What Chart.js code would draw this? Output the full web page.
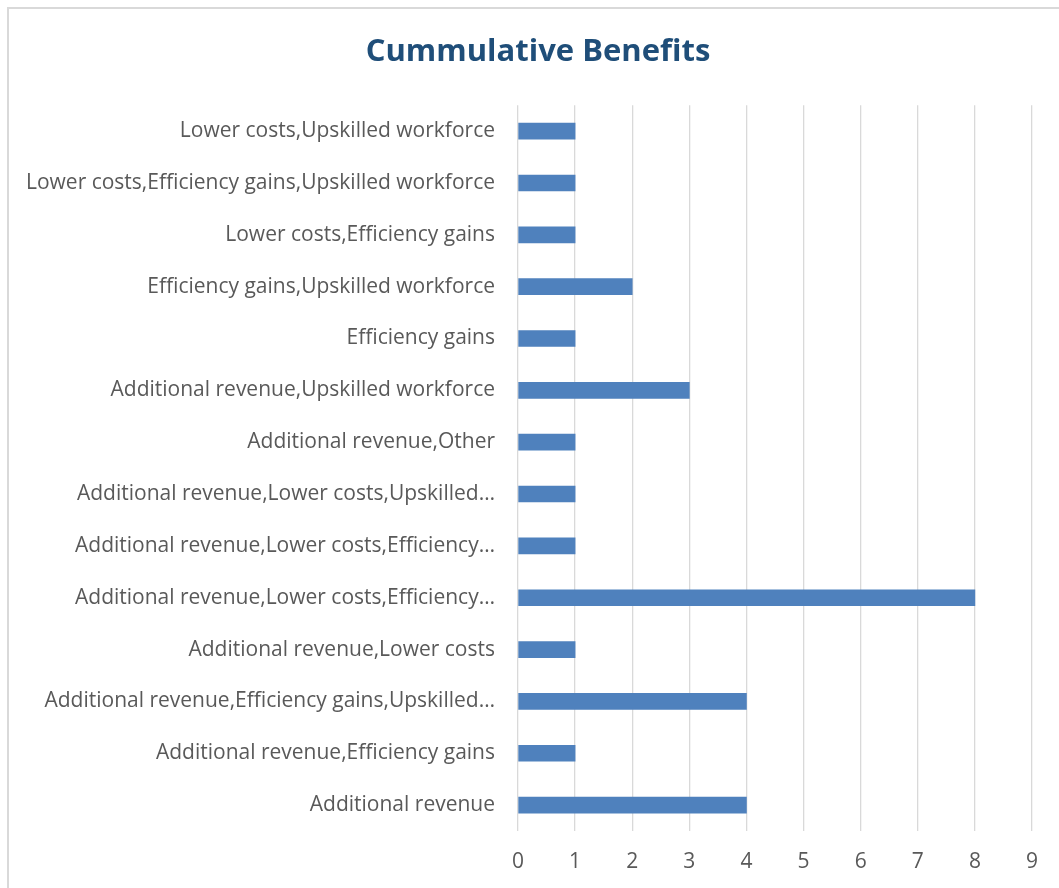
<!DOCTYPE html>
<html>
<head>
    <title>Cummulative Benefits</title>
    <script src="https://cdn.jsdelivr.net/npm/chart.js"></script>
    <style>
        body { margin: 0; padding: 0; background: #ffffff; overflow: hidden; }
        .frame {
            position: absolute;
            left: 7px;
            top: 7px;
            width: 1070px;
            height: 900px;
            border: 2px solid #d9d9d9;
        }
        .chart-box {
            position: absolute;
            left: 0;
            top: 0;
            width: 1076px;
            height: 888px;
        }
    </style>
</head>
<body>
    <div class="frame"></div>
    <div class="chart-box">
        <canvas id="benefitsChart"></canvas>
    </div>
    <script>
        const titleText = 'Cummulative Benefits';
        const categories = [
            'Lower costs,Upskilled workforce',
            'Lower costs,Efficiency gains,Upskilled workforce',
            'Lower costs,Efficiency gains',
            'Efficiency gains,Upskilled workforce',
            'Efficiency gains',
            'Additional revenue,Upskilled workforce',
            'Additional revenue,Other',
            'Additional revenue,Lower costs,Upskilled…',
            'Additional revenue,Lower costs,Efficiency…',
            'Additional revenue,Lower costs,Efficiency…',
            'Additional revenue,Lower costs',
            'Additional revenue,Efficiency gains,Upskilled…',
            'Additional revenue,Efficiency gains',
            'Additional revenue'
        ];
        const counts = [1, 1, 1, 2, 1, 3, 1, 1, 1, 8, 1, 4, 1, 4];
        const xTicks = [0, 1, 2, 3, 4, 5, 6, 7, 8, 9];

        const labelFont = "'Open Sans', 'Noto Sans', sans-serif";

        new Chart(document.getElementById('benefitsChart'), {
            type: 'bar',
            data: {
                labels: categories,
                datasets: [{
                    label: 'Count',
                    data: counts,
                    backgroundColor: '#4f81bd',
                    borderWidth: 0,
                    barThickness: 16
                }]
            },
            options: {
                indexAxis: 'y',
                responsive: true,
                maintainAspectRatio: false,
                animation: false,
                layout: { padding: 0 },
                plugins: {
                    legend: { display: false },
                    tooltip: { enabled: false },
                    title: {
                        display: true,
                        text: titleText,
                        color: '#1f4e79',
                        font: { family: labelFont, size: 31, weight: 'bold', lineHeight: 1.2 },
                        padding: { top: 34, bottom: 34 }
                    }
                },
                scales: {
                    x: {
                        min: 0,
                        max: 9,
                        afterBuildTicks: (scale) => {
                            scale.ticks = xTicks.map(v => ({ value: v }));
                        },
                        afterFit: (scale) => {
                            scale.height = 57;
                            // keep the right edge of the plot at 9 while the title stays centred on the frame
                            scale.paddingRight = 44;
                        },
                        border: { display: false },
                        grid: { color: '#d9d9d9', lineWidth: 1.3, drawTicks: false },
                        ticks: {
                            padding: 18,
                            color: '#595959',
                            font: { family: labelFont, size: 21 }
                        }
                    },
                    y: {
                        afterFit: (scale) => { scale.width = 518; },
                        border: { display: false },
                        grid: { display: false, drawTicks: false },
                        ticks: {
                            padding: 23,
                            color: '#595959',
                            autoSkip: false,
                            font: { family: labelFont, size: 21 }
                        }
                    }
                }
            }
        });
    </script>
</body>
</html>
